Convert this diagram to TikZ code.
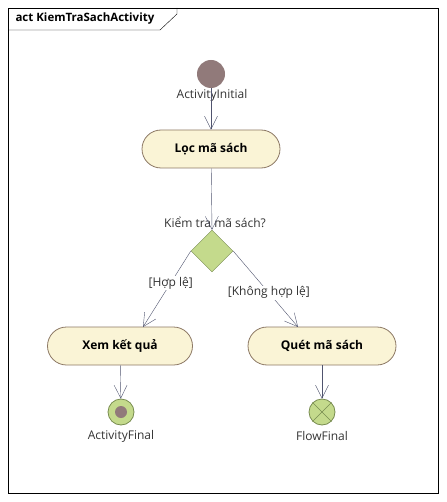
\documentclass[tikz,border=0pt]{standalone}
\usepackage{fontspec}
\setmainfont{Open Sans}
\usepackage{tikz}
\usetikzlibrary{arrows.meta}
\usetikzlibrary{shapes}
\definecolor{actfill}{RGB}{250,244,214}
\definecolor{actline}{RGB}{140,120,100}
\definecolor{decfill}{RGB}{196,218,140}
\definecolor{decline}{RGB}{120,140,80}
\definecolor{initfill}{RGB}{145,122,122}
\definecolor{flowline}{RGB}{80,84,110}
\tikzset{action/.style={draw=actline,thick,fill=actfill,rounded corners=19pt,
   minimum width=138pt,minimum height=38pt,font=\bfseries\fontsize{12}{14}\selectfont},
 wide action/.style={action,minimum width=148pt},
 decision/.style={draw=decline,fill=decfill,diamond,minimum width=42pt,minimum height=42pt,inner sep=0pt},
 initial/.style={circle,fill=initfill,minimum size=28pt,inner sep=0pt},
 finalnode/.style={circle,draw=decline,thick,fill=decfill,minimum size=26pt,inner sep=0pt},
 lbl/.style={font=\fontsize{12}{14}\selectfont,text=black!80},
 flow/.style={draw=flowline,-{Straight Barb[length=13pt,width=13pt]}},
 }

\begin{document}
\begin{tikzpicture}[x=1pt,y=-1pt]
        \useasboundingbox (0,0) rectangle (446,502);
        \draw (8,8) rectangle (438,493);
        \draw (8,30) -- (160,30) -- (177,14) -- (177,8);
        \node[anchor=west,font=\bfseries\fontsize{11.5}{13}\selectfont] (title) at (12,19) {act KiemTraSachActivity};
        \node[initial] (start) at (211,74) {};
        \node[lbl] (startlbl) at (212,95) {ActivityInitial};
        \node[action] (loc) at (211,149) {Lọc mã sách};
        \node[decision] (check) at (212,251) {};
        \node[lbl] (checklbl) at (215,222) {Kiểm tra mã sách?};
        \node[wide action,minimum width=145pt] (xem) at (120,346) {Xem kết quả};
        \node[wide action] (quet) at (322,346) {Quét mã sách};
        \node[finalnode] (actend) at (121,412) {};
        \fill[initfill] (actend) circle (6pt);
        \node[lbl] (actendlbl) at (121,436) {ActivityFinal};
        \node[finalnode] (flowend) at (322,412) {};
        \draw[decline] (flowend.north west) -- (flowend.south east);
        \draw[decline] (flowend.north east) -- (flowend.south west);
        \node[lbl] (flowendlbl) at (322,436) {FlowFinal};
        \draw[flow] (start) -- (loc);
        \draw[flow] (loc) -- (check.north);
        \draw[flow] (check.west) -- node[lbl,fill=white,inner sep=1pt,pos=0.42] {[Hợp lệ]} (143,327);
        \draw[flow] (check.east) -- node[lbl,fill=white,inner sep=1pt,pos=0.55] {[Không hợp lệ]} (298,327);
        \draw[flow] (xem) -- (actend);
        \draw[flow] (quet) -- (flowend);
    \end{tikzpicture}
\end{document}
